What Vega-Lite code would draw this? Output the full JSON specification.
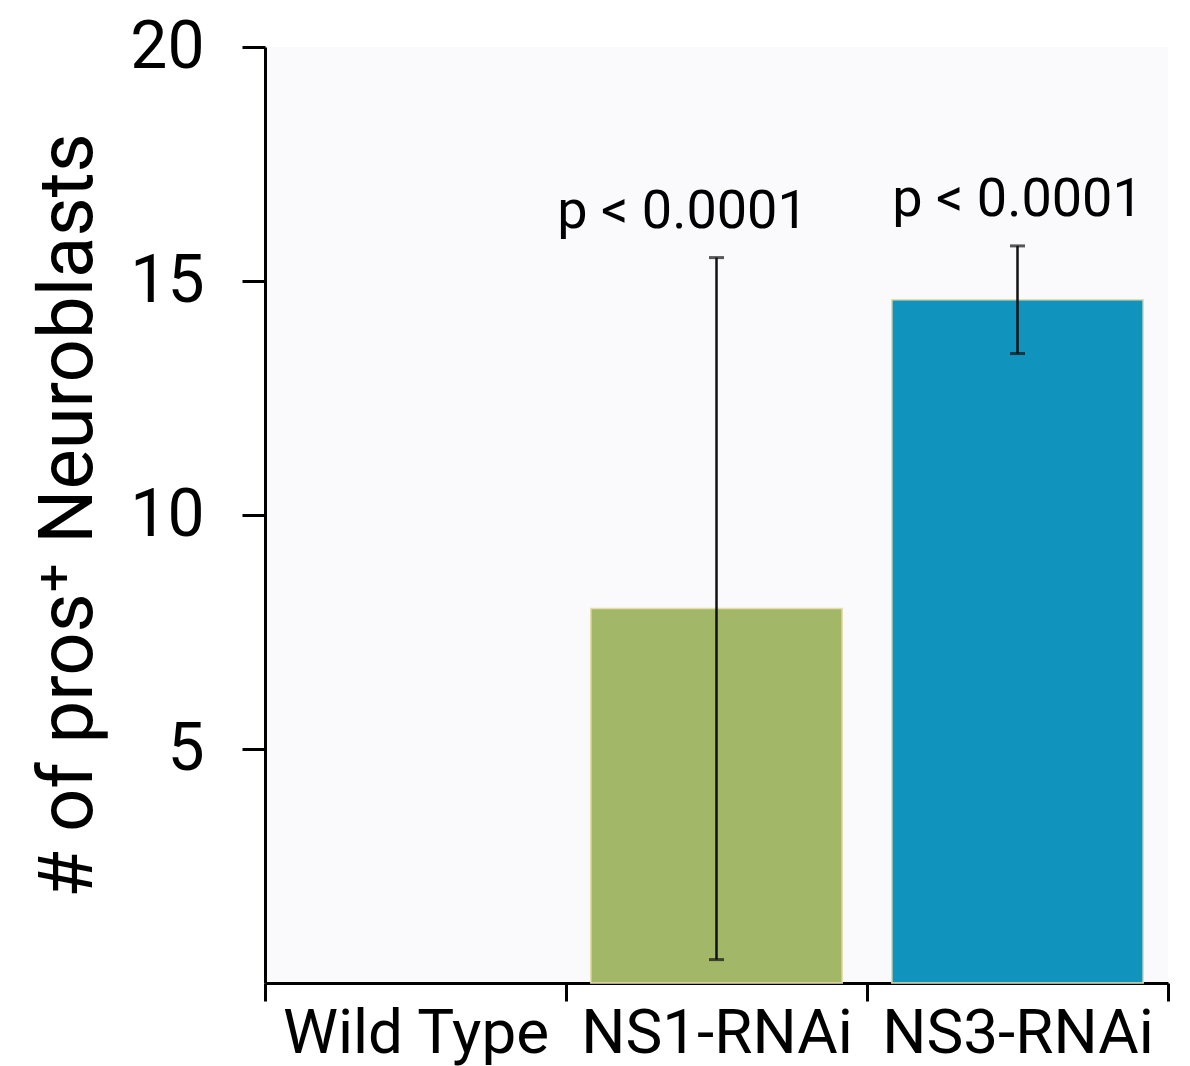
{
  "$schema": "https://vega.github.io/schema/vega-lite/v6.json",
  "autosize": "none",
  "width": 903,
  "height": 936,
  "padding": {"left": 265, "top": 47, "right": 22, "bottom": 83},
  "background": "#ffffff",
  "config": {
    "font": "Roboto, sans-serif",
    "view": {"fill": "#fafafd", "stroke": null}
  },
  "data": {
    "values": [
      {"category": "Wild Type", "value": 0, "lo": null, "hi": null, "label": "", "group": "wt"},
      {"category": "NS1-RNAi", "value": 8.0, "lo": 0.5, "hi": 15.5, "label": "p < 0.0001", "group": "ns1"},
      {"category": "NS3-RNAi", "value": 14.6, "lo": 13.45, "hi": 15.75, "label": "p < 0.0001", "group": "ns3"}
    ]
  },
  "encoding": {
    "x": {
      "field": "category",
      "type": "nominal",
      "sort": null,
      "scale": {"domain": ["Wild Type", "NS1-RNAi", "NS3-RNAi"], "paddingInner": 0, "paddingOuter": 0},
      "axis": {
        "title": null,
        "labelAngle": 0,
        "labelLimit": 0,
        "tickBand": "extent",
        "tickSize": 18,
        "tickWidth": 3,
        "tickColor": "#000000",
        "domainWidth": 3,
        "domainColor": "#000000",
        "labelFontSize": 62,
        "labelColor": "#000000",
        "labelPadding": 2,
        "labelBaseline": "top"
      }
    }
  },
  "layer": [
    {
      "transform": [{"filter": "datum.value > 0"}],
      "mark": {"type": "bar", "stroke": "#e6dcaa", "strokeWidth": 1.5, "width": {"band": 0.835}},
      "encoding": {
        "y": {
          "field": "value",
          "type": "quantitative",
          "scale": {"domain": [0, 20], "nice": false},
          "axis": {
            "title": "# of  pros⁺ Neuroblasts",
            "values": [5, 10, 15, 20],
            "grid": false,
            "tickSize": 23,
            "tickWidth": 3,
            "tickColor": "#000000",
            "domainWidth": 3,
            "domainColor": "#000000",
            "labelFontSize": 66,
            "labelColor": "#000000",
            "labelPadding": 38,
            "titleFontSize": 76,
            "titleFontWeight": "normal",
            "titleColor": "#000000",
            "titlePadding": 22
          }
        },
        "color": {
          "field": "category",
          "type": "nominal",
          "scale": {"domain": ["Wild Type", "NS1-RNAi", "NS3-RNAi"], "range": ["#ffffff", "#a3b769", "#1094bd"]},
          "legend": null
        }
      }
    },
    {
      "transform": [{"filter": "datum.hi != null"}],
      "mark": {"type": "rule", "color": "#111111", "strokeWidth": 2.5},
      "encoding": {
        "y": {"field": "lo", "type": "quantitative"},
        "y2": {"field": "hi"}
      }
    },
    {
      "transform": [{"filter": "datum.hi != null"}],
      "mark": {"type": "tick", "color": "#111111", "size": 15, "thickness": 3},
      "encoding": {
        "y": {"field": "hi", "type": "quantitative"}
      }
    },
    {
      "transform": [{"filter": "datum.hi != null"}],
      "mark": {"type": "tick", "color": "#111111", "size": 15, "thickness": 3},
      "encoding": {
        "y": {"field": "lo", "type": "quantitative"}
      }
    },
    {
      "transform": [{"filter": "datum.group == 'ns1'"}],
      "mark": {"type": "text", "fontSize": 54, "dy": -30, "dx": -34, "baseline": "alphabetic", "color": "#000000"},
      "encoding": {
        "y": {"field": "hi", "type": "quantitative"},
        "text": {"field": "label"}
      }
    },
    {
      "transform": [{"filter": "datum.group == 'ns3'"}],
      "mark": {"type": "text", "fontSize": 54, "dy": -30, "baseline": "alphabetic", "color": "#000000"},
      "encoding": {
        "y": {"field": "hi", "type": "quantitative"},
        "text": {"field": "label"}
      }
    }
  ]
}
